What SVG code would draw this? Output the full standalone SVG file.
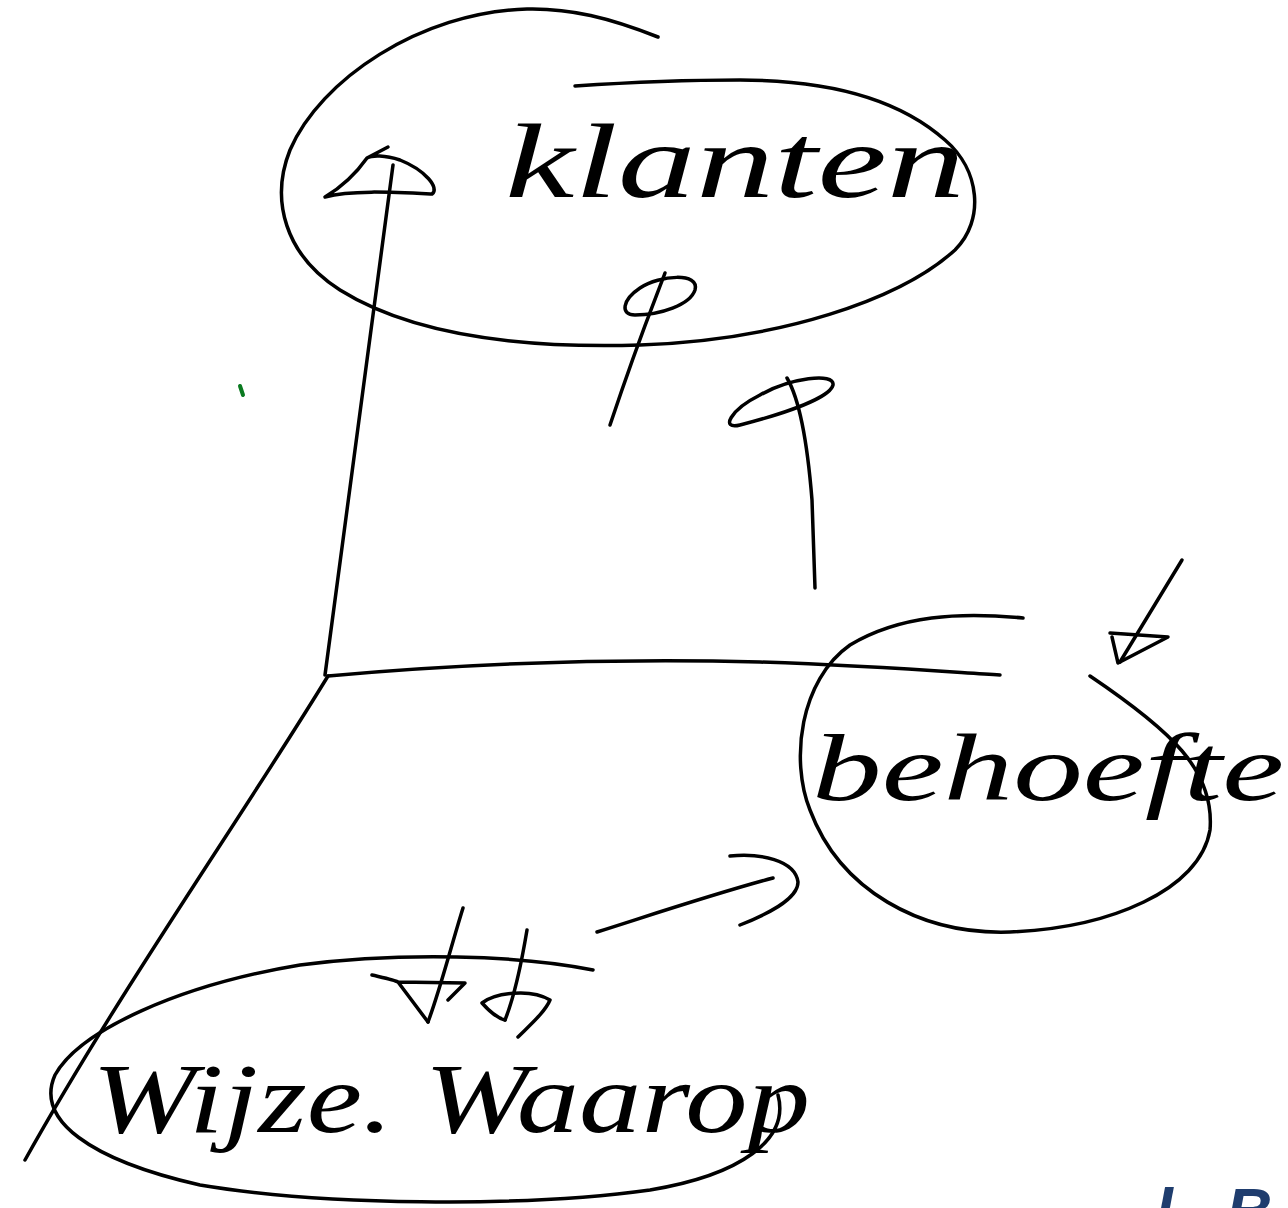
<svg xmlns="http://www.w3.org/2000/svg" width="1288" height="1208" viewBox="0 0 1288 1208">
<style>
.s{fill:none;stroke:#000;stroke-width:3.5;stroke-linecap:round;stroke-linejoin:round}
.t{font-family:"Liberation Serif","DejaVu Serif",serif;font-style:italic;fill:#000}
</style>
<rect width="1288" height="1208" fill="#fff"/>
<g id="node-klanten">
<path class="s" d="M658,37 C610,18 570,8 527,9 C420,12 320,80 290,150 C270,200 285,255 340,290 C420,340 540,348 640,345 C780,340 900,300 955,250 C985,220 980,170 945,140 C900,100 830,80 740,80 C680,80 620,83 575,86"/>
<text class="t" x="505" y="197" font-size="105" textLength="460" lengthAdjust="spacingAndGlyphs">klanten</text>
</g>
<g id="node-behoefte">
<path class="s" d="M1023,618 C960,612 900,615 850,645 C800,680 790,760 810,810 C840,890 920,935 1010,932 C1110,928 1200,890 1210,830 C1215,770 1170,730 1090,676"/>
<text class="t" x="812" y="800" font-size="95" textLength="472" lengthAdjust="spacingAndGlyphs">behoefte</text>
</g>
<g id="node-wijze">
<path class="s" d="M593,970 C520,955 400,952 300,965 C180,985 80,1030 55,1075 C35,1120 90,1160 200,1185 C320,1205 520,1208 650,1190 C740,1175 790,1140 778,1095"/>
<text class="t" x="92" y="1132" font-size="100" textLength="718" lengthAdjust="spacingAndGlyphs">Wijze. Waarop</text>
</g>
<g id="connectors">
<path class="s" d="M325,675 C340,560 360,420 393,165"/>
<path class="s" d="M388,147 L367,158 C355,175 340,188 325,197 C350,190 390,192 432,194 C440,188 425,170 400,160 C385,155 372,155 367,158"/>
<path class="s" d="M328,676 C450,665 600,658 760,662 C880,666 950,672 1000,675"/>
<path class="s" d="M328,676 C240,820 120,990 25,1160"/>
<path class="s" d="M665,273 C655,300 640,335 610,425"/>
<path class="s" d="M640,288 C660,275 700,272 695,290 C690,305 660,315 635,315 C620,315 622,300 640,288"/>
<path class="s" d="M787,378 C800,400 808,450 812,500 L815,588"/>
<path class="s" d="M760,395 C790,378 835,372 833,385 C830,397 790,412 740,425 C720,430 730,410 760,395"/>
<path class="s" d="M1182,560 L1120,662"/>
<path class="s" d="M1110,633 L1168,637 L1118,663 L1112,637"/>
<path class="s" d="M597,932 C660,912 720,892 773,878"/>
<path class="s" d="M730,856 C760,853 795,860 798,882 C798,900 765,915 740,925"/>
<path class="s" d="M463,908 C450,950 440,990 428,1022"/>
<path class="s" d="M372,975 C385,978 395,980 398,982 L428,1022 M398,982 L465,983 L448,1000"/>
<path class="s" d="M527,930 C522,960 515,995 505,1020"/>
<path class="s" d="M482,1003 C495,993 530,988 550,1000 C545,1012 530,1025 518,1037 M482,1003 C490,1012 497,1018 505,1020"/>
</g>
<path d="M240,386 L243,395" fill="none" stroke="#0a7a20" stroke-width="4" stroke-linecap="round"/>
<text x="1155" y="1234" font-family="Liberation Sans, sans-serif" font-style="italic" font-weight="bold" font-size="64" fill="#1f3d6e">l<tspan x="1226">B</tspan></text>
</svg>
